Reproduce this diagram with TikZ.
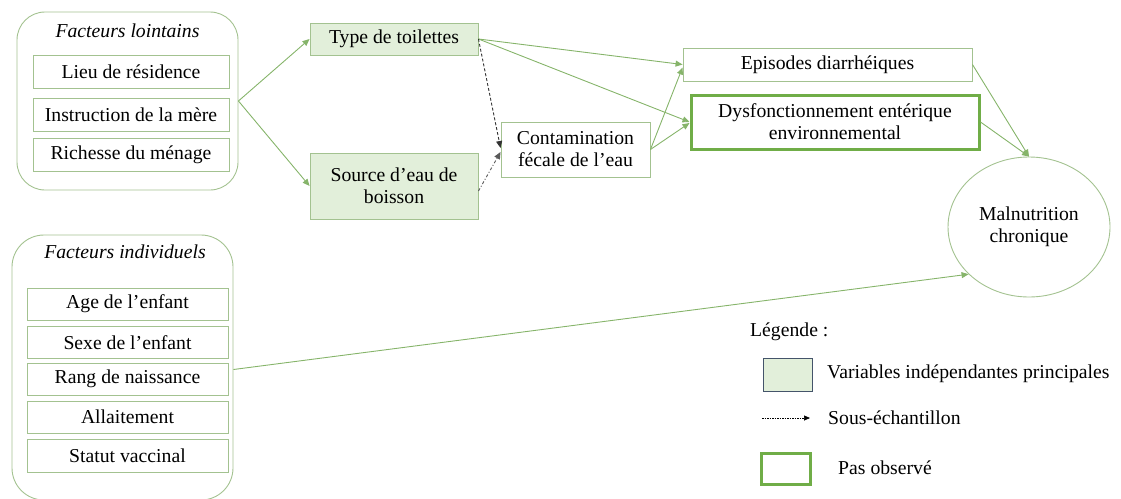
\documentclass[tikz,border=0pt]{standalone}
\usepackage{fontspec}
\setmainfont{Liberation Serif}
\usetikzlibrary{arrows.meta,shapes.geometric}
\definecolor{thinline}{HTML}{A3C290}
\definecolor{arrowgreen}{HTML}{86B46A}
\definecolor{fillgreen}{HTML}{E2EFDA}
\definecolor{thickgreen}{HTML}{70AD47}
\definecolor{legendborder}{HTML}{44546A}
\tikzset{
  txt/.style={font=\fontsize{19.7}{22}\selectfont, align=center, inner sep=0pt},
  outerbox/.style={draw=thinline, line width=0.9pt, rounded corners=28pt, inner sep=0pt},
  itembox/.style={txt, draw=thinline, line width=0.9pt, minimum height=33pt},
  mainbox/.style={txt, draw=thinline, fill=fillgreen, line width=0.9pt},
  plainbox/.style={txt, draw=thinline, line width=0.9pt},
  unobs/.style={txt, draw=thickgreen, line width=3pt},
  conn/.style={draw=arrowgreen, line width=0.9pt, -{Triangle[width=6pt,length=7pt]}},
  subconn/.style={draw=black!80, line width=0.9pt, dash pattern=on 3pt off 2pt, -{Triangle[width=6pt,length=7pt]}},
  subconnB/.style={draw=black!65, line width=0.9pt, dash pattern=on 3pt off 2pt on 1pt off 2pt, -{Triangle[width=6pt,length=7pt]}},
  legtxt/.style={txt, anchor=west}
}
\begin{document}
\begin{tikzpicture}[x=1pt,y=-1pt]
\useasboundingbox (0,0) rectangle (1121,498);
\clip (0,0) rectangle (1121,498);

% Facteurs lointains
\node[outerbox, minimum width=221pt, minimum height=178pt] (lointains) at (127.5,101) {};
\node[txt, font=\fontsize{19.7}{22}\selectfont\itshape] (tl) at (127.5,31) {Facteurs lointains};
\node[itembox, minimum width=196pt] (lieu) at (131,71.5) {Lieu de résidence};
\node[itembox, minimum width=196pt] (instr) at (131,114.5) {Instruction de la mère};
\node[itembox, minimum width=196pt] (rich) at (131,154.5) {Richesse du ménage};

% Facteurs individuels
\node[outerbox, rounded corners=32pt, minimum width=221pt, minimum height=265pt] (indiv) at (122.5,367.5) {};
\node[txt, font=\fontsize{19.7}{22}\selectfont\itshape] (ti) at (125,252) {Facteurs individuels};
\node[itembox, minimum width=201pt, minimum height=32pt] (age) at (127.5,304) {Age de l’enfant};
\node[itembox, minimum width=201pt, minimum height=32pt] (sexe) at (127.5,342.5) {Sexe de l’enfant};
\node[itembox, minimum width=201pt, minimum height=32pt] (rang) at (127.5,379) {Rang de naissance};
\node[itembox, minimum width=201pt, minimum height=32pt] (allait) at (127.5,417) {Allaitement};
\node[itembox, minimum width=201pt, minimum height=33pt] (statut) at (127.5,455.5) {Statut vaccinal};

% Main variables
\node[mainbox, minimum width=168pt, minimum height=32pt] (type) at (394,39) {Type de toilettes};
\node[mainbox, minimum width=168pt, minimum height=66pt] (source) at (394,186) {Source d’eau de\\boisson};
\node[plainbox, minimum width=149pt, minimum height=55pt] (contam) at (575.5,149.5) {Contamination\\fécale de l’eau};
\node[plainbox, minimum width=289pt, minimum height=33pt] (episodes) at (827.5,64.5) {Episodes diarrhéiques};
\node[unobs, minimum width=288pt, minimum height=54pt] (dysf) at (835,122) {Dysfonctionnement entérique\\environnemental};
\node[txt, ellipse, draw=thinline, line width=0.9pt, minimum width=162pt, minimum height=140pt] (malnut) at (1029,227) {Malnutrition\\chronique};

% Connectors
\draw[conn] (lointains.east) -- (type.west);
\draw[conn] (lointains.east) -- (source.west);
\draw[conn] (type.east) -- (episodes.west);
\draw[conn] (type.east) -- (dysf.west);
\draw[subconn] (type.east) -- ([yshift=1.5pt]contam.west);
\draw[subconnB] ([yshift=-5pt]source.east) -- ([yshift=-2.5pt]contam.west);
\draw[conn] (contam.east) -- ([yshift=-3pt]episodes.west);
\draw[conn] (contam.east) -- ([yshift=-1pt]dysf.west);
\draw[conn] (episodes.east) -- (malnut.north);
\draw[conn] (dysf.east) -- (malnut.north);
\draw[conn] ([yshift=-2pt]indiv.east) -- (malnut.218);

% Legend
\node[legtxt] (leg) at (750,332) {Légende :};
\node[draw=legendborder, fill=fillgreen, line width=0.9pt, minimum width=49pt, minimum height=33pt, inner sep=0pt] (legmain) at (787.5,374.5) {};
\node[legtxt] (legmaintxt) at (827,374) {Variables indépendantes principales};
\coordinate (ls) at (762,418);
\coordinate (le) at (810,418);
\draw[draw=black, line width=0.7pt, dash pattern=on 1.5pt off 1pt, -{Triangle[width=5pt,length=6pt]}] (ls) -- (le);
\node[legtxt] (legsubtxt) at (828,418) {Sous-échantillon};
\node[draw=thickgreen, line width=3pt, minimum width=49pt, minimum height=31pt, inner sep=0pt] (legunobs) at (785.5,468.5) {};
\node[legtxt] (legunobstxt) at (838,468) {Pas observé};
\end{tikzpicture}
\end{document}
